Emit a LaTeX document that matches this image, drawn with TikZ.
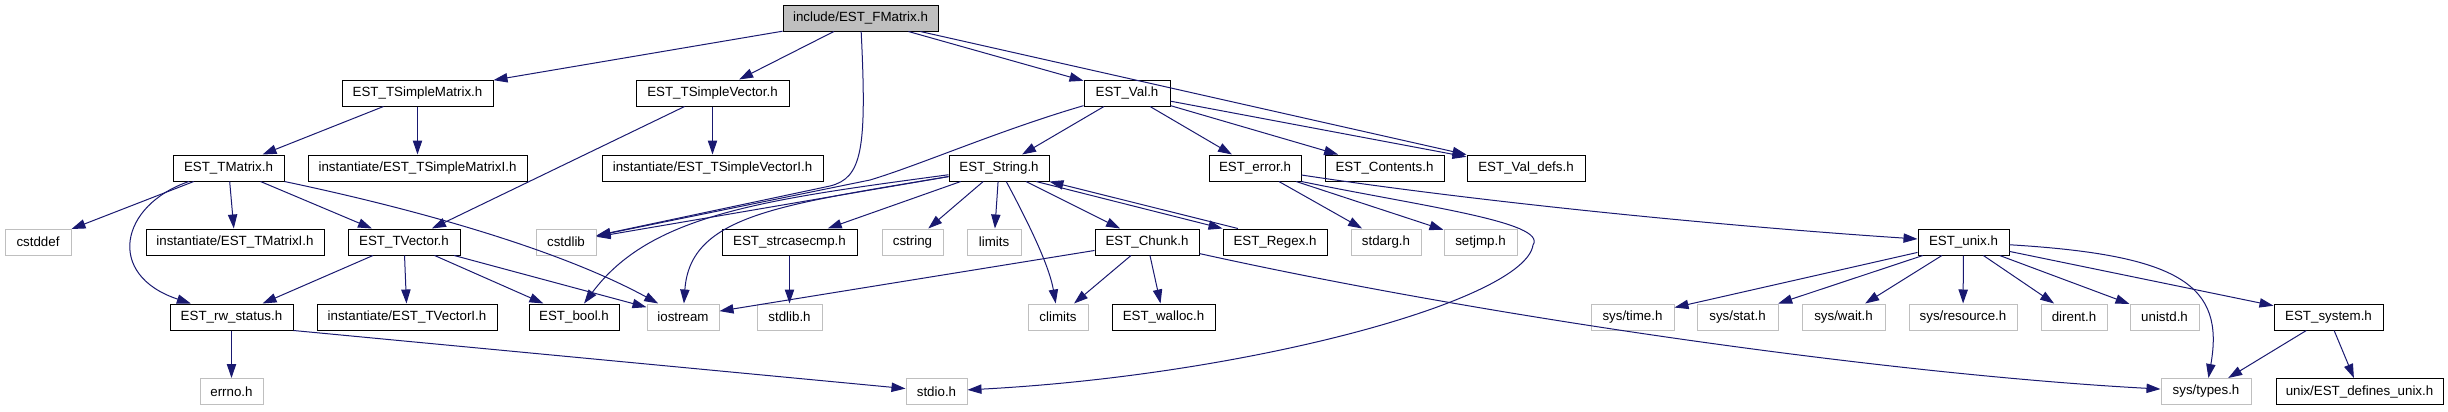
\documentclass[tikz,border=0pt]{standalone}
\usepackage{fontspec}
\setmainfont{Liberation Sans}
\usetikzlibrary{arrows.meta}

\definecolor{edgeblue}{HTML}{191970}
\definecolor{extgray}{HTML}{BFBFBF}

\begin{document}
\begin{tikzpicture}[
    x=0.75pt, y=-0.75pt,
    >={Triangle[length=10.5pt, width=7pt]},
    hdr/.style={draw=black, line width=0.75pt, fill=white, inner sep=0pt,
                minimum height=19.5pt, font=\fontsize{10}{12}\selectfont},
    sys/.style={hdr, draw=extgray},
    wd/.style={minimum width=#1*0.75pt},
    dep/.style={->, edgeblue, line width=0.75pt}
  ]
  \useasboundingbox (0,0) rectangle (2448,411);

  \node[hdr, fill=extgray, wd=155] (root) at (860.5,18) {include/EST\_FMatrix.h};

  \node[hdr, wd=151] (tsmat) at (417.5,93) {EST\_TSimpleMatrix.h};
  \node[hdr, wd=153] (tsvec) at (712.5,93) {EST\_TSimpleVector.h};
  \node[hdr, wd=86] (val) at (1127,93) {EST\_Val.h};

  \node[hdr, wd=111] (tmatrix) at (228.5,168) {EST\_TMatrix.h};
  \node[hdr, wd=219] (tsmati) at (417.5,168) {instantiate/EST\_TSimpleMatrixI.h};
  \node[hdr, wd=221] (tsveci) at (712.5,168) {instantiate/EST\_TSimpleVectorI.h};
  \node[hdr, wd=100] (string) at (999,168) {EST\_String.h};
  \node[hdr, wd=92] (error) at (1255,168) {EST\_error.h};
  \node[hdr, wd=119] (contents) at (1384.5,168) {EST\_Contents.h};
  \node[hdr, wd=118] (valdefs) at (1526,168) {EST\_Val\_defs.h};

  \node[sys, wd=66] (cstddef) at (38,242) {cstddef};
  \node[hdr, wd=178] (tmati) at (235,242) {instantiate/EST\_TMatrixI.h};
  \node[hdr, wd=112] (tvector) at (404,242) {EST\_TVector.h};
  \node[sys, wd=60] (cstdlib) at (566,242) {cstdlib};
  \node[hdr, wd=135] (strcasecmp) at (789.5,242) {EST\_strcasecmp.h};
  \node[sys, wd=61] (cstring) at (912.5,242) {cstring};
  \node[sys, wd=54] (limits) at (994,242) {limits};
  \node[hdr, wd=104] (chunk) at (1147,242) {EST\_Chunk.h};
  \node[hdr, wd=104] (regex) at (1275,242) {EST\_Regex.h};
  \node[sys, wd=70] (stdarg) at (1386,242) {stdarg.h};
  \node[sys, wd=73] (setjmp) at (1480.5,242) {setjmp.h};
  \node[hdr, wd=91] (unix) at (1963.5,242) {EST\_unix.h};

  \node[hdr, wd=123] (rwstatus) at (231.5,317) {EST\_rw\_status.h};
  \node[hdr, wd=180] (tveci) at (407,317) {instantiate/EST\_TVectorI.h};
  \node[hdr, wd=90] (bool) at (574,317) {EST\_bool.h};
  \node[sys, wd=72] (iostream) at (683,317) {iostream};
  \node[sys, wd=65] (stdlib) at (789.5,317) {stdlib.h};
  \node[sys, wd=60] (climits) at (1058,317) {climits};
  \node[hdr, wd=103] (walloc) at (1163.5,317) {EST\_walloc.h};
  \node[sys, wd=83] (systime) at (1632.5,317) {sys/time.h};
  \node[sys, wd=81] (sysstat) at (1737.5,317) {sys/stat.h};
  \node[sys, wd=83] (syswait) at (1843.5,317) {sys/wait.h};
  \node[sys, wd=108] (sysres) at (1963,317) {sys/resource.h};
  \node[sys, wd=66] (dirent) at (2074,317) {dirent.h};
  \node[sys, wd=69] (unistd) at (2164.5,317) {unistd.h};
  \node[hdr, wd=109] (system) at (2328.5,317) {EST\_system.h};

  \node[sys, wd=63] (errno) at (231.5,391.5) {errno.h};
  \node[sys, wd=61] (stdio) at (936.5,391.5) {stdio.h};
  \node[sys, wd=90] (systypes) at (2206,391.5) {sys/types.h};
  \node[hdr, wd=167] (definesunix) at (2359.5,391.5) {unix/EST\_defines\_unix.h};

  \draw[dep] (root) -- (tsmat);
  \draw[dep] (root) -- (tsvec);
  \draw[dep] (root) -- (val);
  \draw[dep] (root) -- (valdefs);
  \draw[dep] (root) .. controls (867,150) and (862,178) .. (830,186) -- (cstdlib);

  \draw[dep] (tsmat) -- (tmatrix);
  \draw[dep] (tsmat) -- (tsmati);
  \draw[dep] (tsvec) -- (tsveci);
  \draw[dep] (tsvec) -- (tvector);

  \draw[dep] (val) -- (string);
  \draw[dep] (val) -- (error);
  \draw[dep] (val) -- (contents);
  \draw[dep] (val) -- (valdefs);
  \draw[dep] (val) .. controls (1000,130) and (920,165) .. (870,180) -- (cstdlib);

  \draw[dep] (tmatrix) -- (cstddef);
  \draw[dep] (tmatrix) -- (tmati);
  \draw[dep] (tmatrix) -- (tvector);
  \draw[dep] (tmatrix) .. controls (120,205) and (105,275) .. (rwstatus);
  \draw[dep] (tmatrix.south east) .. controls (420,210) and (560,250) .. (iostream);

  \draw[dep] (tvector) -- (rwstatus);
  \draw[dep] (tvector) -- (tveci);
  \draw[dep] (tvector) -- (bool);
  \draw[dep] (tvector) -- (iostream);

  \draw[dep] (string) -- (cstdlib);
  \draw[dep] (string) .. controls (760,200) and (650,215) .. (bool);
  \draw[dep] (string) .. controls (780,205) and (690,215) .. (iostream);
  \draw[dep] (string) -- (strcasecmp);
  \draw[dep] (string) -- (cstring);
  \draw[dep] (string) -- (limits);
  \draw[dep] (string) .. controls (1035,235) and (1050,270) .. (climits);
  \draw[dep] (string) -- (chunk);
  \draw[dep] (string.-20) -- (regex.north west);
  \draw[dep] (regex.160) -- (string.-15);

  \draw[dep] (strcasecmp) -- (stdlib);
  \draw[dep] (chunk) -- (iostream);
  \draw[dep] (chunk) -- (climits);
  \draw[dep] (chunk) -- (walloc);
  \draw[dep] (chunk) .. controls (1500,320) and (1900,375) .. (systypes);

  \draw[dep] (error) -- (stdarg);
  \draw[dep] (error) -- (setjmp);
  \draw[dep] (error.south east) .. controls (1420,206) and (1548,222) .. (1533,245)
    .. controls (1525,300) and (1250,375) .. (stdio);
  \draw[dep] (error) .. controls (1500,205) and (1750,228) .. (unix);

  \draw[dep] (rwstatus) -- (errno);
  \draw[dep] (rwstatus.south east) -- (stdio);

  \draw[dep] (unix) -- (systime);
  \draw[dep] (unix) -- (sysstat);
  \draw[dep] (unix) -- (syswait);
  \draw[dep] (unix) -- (sysres);
  \draw[dep] (unix) -- (dirent);
  \draw[dep] (unix) -- (unistd);
  \draw[dep] (unix) -- (system);
  \draw[dep] (unix) .. controls (2180,255) and (2225,285) .. (systypes);
  \draw[dep] (system) -- (systypes);
  \draw[dep] (system) -- (definesunix);
\end{tikzpicture}
\end{document}
